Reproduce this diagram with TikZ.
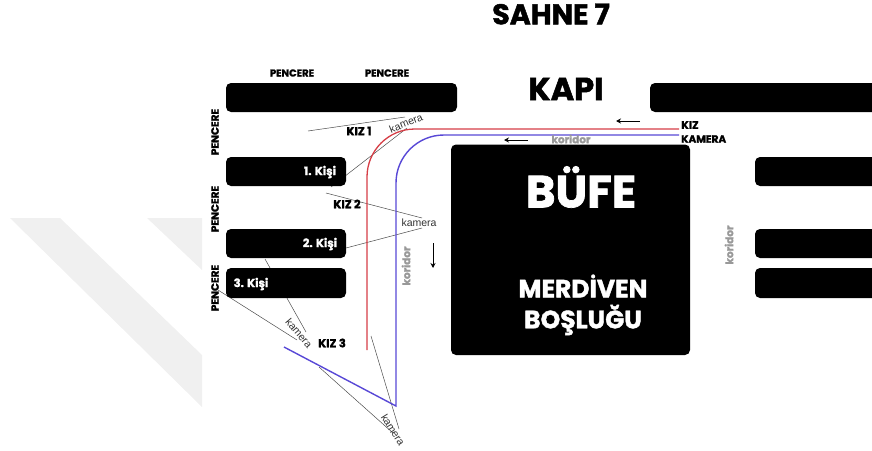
\documentclass[tikz,border=0pt]{standalone}
\usepackage{fontspec}
\usetikzlibrary{arrows.meta}
\setmainfont[BoldFeatures={FakeBold=1.6}]{Poppins}
\newfontfamily\thinf{Liberation Sans}
\definecolor{redline}{RGB}{214,62,70}
\definecolor{blueline}{RGB}{88,72,214}
\begin{document}
\begin{tikzpicture}[x=1pt,y=-1pt,
  blackbox/.style={fill=black,rounded corners=5pt},
  bold/.style={font=\bfseries\fontsize{#1}{#1}\selectfont,inner sep=0pt,text=black},
  boxtext/.style={font=\bfseries\fontsize{#1}{#1}\selectfont,inner sep=0pt,text=white},
  cam/.style={font=\thinf\fontsize{10.5}{10.5}\selectfont,inner sep=0pt,text=black!80},
  kor/.style={font=\bfseries\fontsize{#1}{#1}\selectfont,inner sep=0pt,text=black!40},
  sight/.style={draw=black!70,line width=0.5pt},
  flow/.style={-{Stealth[length=5pt,width=5pt]},line width=0.9pt},
  redpath/.style={draw=redline,line width=1.3pt},
  bluepath/.style={draw=blueline,line width=1.4pt}]
\useasboundingbox (0,0) rectangle (872,450);
% watermark
\fill[black!6] (10,218) -- (60,218) -- (202,355) -- (202,407) -- cycle;
\fill[black!6] (147,218) -- (202,218) -- (202,270) -- cycle;
% sight lines
\coordinate (a1) at (308,131); \coordinate (a2) at (405,117);
\coordinate (b1) at (331,187); \coordinate (b2) at (407,128);
\coordinate (c1) at (326,193); \coordinate (c2) at (422,218);
\coordinate (d1) at (346,248); \coordinate (d2) at (422,228);
\coordinate (e1) at (265,259); \coordinate (e2) at (306,332);
\coordinate (f1) at (218,290); \coordinate (f2) at (297,340);
\coordinate (g1) at (319,367); \coordinate (g2) at (393,433);
\coordinate (h1) at (371,336); \coordinate (h2) at (399,429);
\draw[sight] (a1) -- (a2);
\draw[sight] (b1) -- (b2);
\draw[sight] (c1) -- (c2);
\draw[sight] (d1) -- (d2);
\draw[sight] (e1) -- (e2);
\draw[sight] (f1) -- (f2);
\draw[sight] (g1) -- (g2);
\draw[sight] (h1) -- (h2);
% black boxes
\fill[blackbox] (226,83) rectangle (457,112);
\fill[blackbox] (650,83) rectangle (885,112);
\fill[blackbox] (226,157) rectangle (346,186);
\fill[blackbox] (226,229) rectangle (346,258);
\fill[blackbox] (226,268) rectangle (346,298);
\fill[blackbox] (451,144.5) rectangle (690,355);
\fill[blackbox] (755,157) rectangle (885,186);
\fill[blackbox] (755,229) rectangle (885,258);
\fill[blackbox] (755,268) rectangle (885,298);
% paths
\draw[redpath] (679,129) -- (415,129) arc[start angle=-90,end angle=-180,radius=48] -- (367,350);
\draw[bluepath,line join=miter] (679,135) -- (444,135) arc[start angle=-90,end angle=-180,radius=48] -- (396,406) -- (284,347);
% arrows
\coordinate (p1) at (640,121); \coordinate (p2) at (616,121);
\coordinate (q1) at (528,140); \coordinate (q2) at (504,140);
\coordinate (r1) at (433,243); \coordinate (r2) at (433,268);
\draw[flow] (p1) -- (p2);
\draw[flow] (q1) -- (q2);
\draw[flow] (r1) -- (r2);
% titles
\node[bold=28.5] (sahne) at (551,14) {SAHNE 7};
\node[bold=32] (kapi) at (566,89) {KAPI};
\node[boxtext=45] (bufe) at (581,187) {BÜFE};
\node[boxtext=25] (merd) at (583,286) {MERDİVEN};
\node[boxtext=25] (bosl) at (583,320) {BOŞLUĞU};
% labels
\node[bold=10] (pen1) at (292,73) {PENCERE};
\node[bold=10] (pen2) at (387,73) {PENCERE};
\node[bold=10.5,rotate=90] (pen3) at (215,132) {PENCERE};
\node[bold=10.5,rotate=90] (pen4) at (215,209) {PENCERE};
\node[bold=10.5,rotate=90] (pen5) at (215,288) {PENCERE};
\node[boxtext=11.5] (k1) at (320,172) {1. Kişi};
\node[boxtext=11.5] (k2) at (320,244) {2. Kişi};
\node[boxtext=11.5] (k3) at (251,284) {3. Kişi};
\node[bold=11.5] (kiz1) at (359,131) {KIZ 1};
\node[bold=11.5] (kiz2) at (347,204) {KIZ 2};
\node[bold=11.5] (kiz3) at (332,343) {KIZ 3};
\node[bold=11,anchor=west] (kiz) at (681,125) {KIZ};
\node[bold=10.5,anchor=west] (kam) at (681,139) {KAMERA};
\node[cam,rotate=22] (c1l) at (406,123) {kamera};
\node[cam] (c2l) at (419,223) {kamera};
\node[cam,rotate=-50] (c3l) at (299,333) {kamera};
\node[cam,rotate=-58] (c4l) at (393,430) {kamera};
\node[kor=10.5] (kor1) at (571,139) {koridor};
\node[kor=10.5,rotate=90] (kor2) at (406,266) {koridor};
\node[kor=10.5,rotate=90] (kor3) at (729,245) {koridor};
\end{tikzpicture}
\end{document}
